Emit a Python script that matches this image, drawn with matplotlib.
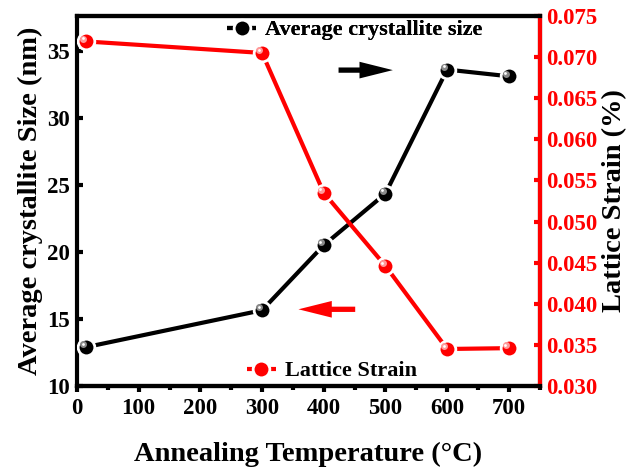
import matplotlib
matplotlib.use("Agg")
import matplotlib.pyplot as plt
import matplotlib.transforms as mtransforms
from matplotlib.patches import FancyArrowPatch
from matplotlib.ticker import MultipleLocator

plt.rcParams['font.family'] = ['Liberation Serif', 'DejaVu Serif']
plt.rcParams['font.weight'] = 'bold'

temperature = [15, 300, 400, 500, 600, 700]
crystallite_size = [12.9, 15.65, 20.5, 24.35, 33.6, 33.1]
lattice_strain = [0.0719, 0.0705, 0.0535, 0.0446, 0.0345, 0.0346]

x_ticks = [0, 100, 200, 300, 400, 500, 600, 700]
left_ticks = [10, 15, 20, 25, 30, 35]
right_ticks = [0.030, 0.035, 0.040, 0.045, 0.050, 0.055, 0.060, 0.065, 0.070, 0.075]

fig = plt.figure(figsize=(6.3, 4.69), dpi=100)
ax = fig.add_axes([0.1222, 0.177, 0.7344, 0.789])
ax2 = ax.twinx()

lw = 3.0
ms = 12

def draw_series(a, x, y, color, hi, label):
    line, = a.plot(x, y, '-o', color=color, lw=lw, ms=ms, mfc=color,
                   mec='white', mew=2.0, label=label, zorder=3,
                   solid_capstyle='butt')
    off = mtransforms.ScaledTranslation(-2.0 / 72, 2.0 / 72, fig.dpi_scale_trans)
    a.plot(x, y, 'o', ms=5, color=hi, mec='none', zorder=4,
           transform=a.transData + off)
    off2 = mtransforms.ScaledTranslation(-2.4 / 72, 2.4 / 72, fig.dpi_scale_trans)
    a.plot(x, y, 'o', ms=2, color='white', mec='none', zorder=5,
           transform=a.transData + off2)
    return line

l1 = draw_series(ax, temperature, crystallite_size, 'black', '#8a8a8a', 'Average crystallite size')
l2 = draw_series(ax2, temperature, lattice_strain, '#ff0000', '#ff9a9a', 'Lattice Strain')

ax.set_xlim(0, 750)
ax.set_ylim(10, 37.6)
ax2.set_ylim(0.030, 0.075)

ax.set_xticks(x_ticks)
ax.xaxis.set_minor_locator(MultipleLocator(50))
ax.set_yticks(left_ticks)
ax2.set_yticks(right_ticks)
ax2.set_yticklabels([f"{v:.3f}" for v in right_ticks])

for a in (ax, ax2):
    for s in a.spines.values():
        s.set_linewidth(3.0)
ax2.spines['right'].set_color('#ff0000')
ax2.spines['left'].set_visible(False)

fs_tick = 16.5
ax.tick_params(axis='x', which='major', direction='out', length=4, width=3,
               labelsize=fs_tick, pad=5, top=False)
ax.tick_params(axis='x', which='minor', direction='out', length=3, width=3, top=False)
ax.tick_params(axis='y', which='major', direction='in', length=4, width=3,
               labelsize=fs_tick, right=False, pad=5)
ax2.tick_params(axis='y', which='major', direction='in', length=4, width=3,
                labelsize=fs_tick, colors='#ff0000', pad=5)

for lab in ax.get_xticklabels() + ax.get_yticklabels() + ax2.get_yticklabels():
    lab.set_fontweight('bold')

ax.set_xlabel('Annealing Temperature (°C)', fontsize=20.5, fontweight='bold', labelpad=16)
ax.set_ylabel('Average crystallite Size (nm)', fontsize=20.5, fontweight='bold', labelpad=3)
ax2.set_ylabel('Lattice Strain (%)', fontsize=20.5, fontweight='bold', color='black', labelpad=3)

# arrows
arrow_style = 'simple,head_length=2.4,head_width=1.2,tail_width=0.38'
ax.add_patch(FancyArrowPatch((424, 33.56), (512, 33.56), arrowstyle=arrow_style,
                             mutation_scale=10, color='black', lw=0,
                             shrinkA=0, shrinkB=0, zorder=6))
ax.add_patch(FancyArrowPatch((451, 15.72), (359, 15.72), arrowstyle=arrow_style,
                             mutation_scale=10, color='#ff0000', lw=0,
                             shrinkA=0, shrinkB=0, zorder=6))

leg1 = ax.legend(handles=[l1], loc='center left', bbox_to_anchor=(0.325, 0.962),
                 frameon=False, handlelength=1.3, handletextpad=0.4,
                 borderpad=0, borderaxespad=0, prop={'weight': 'bold', 'size': 16})
ax.add_artist(leg1)
leg2 = ax2.legend(handles=[l2], loc='center left', bbox_to_anchor=(0.367, 0.0405),
                  frameon=False, handlelength=1.3, handletextpad=0.4,
                  borderpad=0, borderaxespad=0, prop={'weight': 'bold', 'size': 16})

fig.savefig('out.png', dpi=100)
